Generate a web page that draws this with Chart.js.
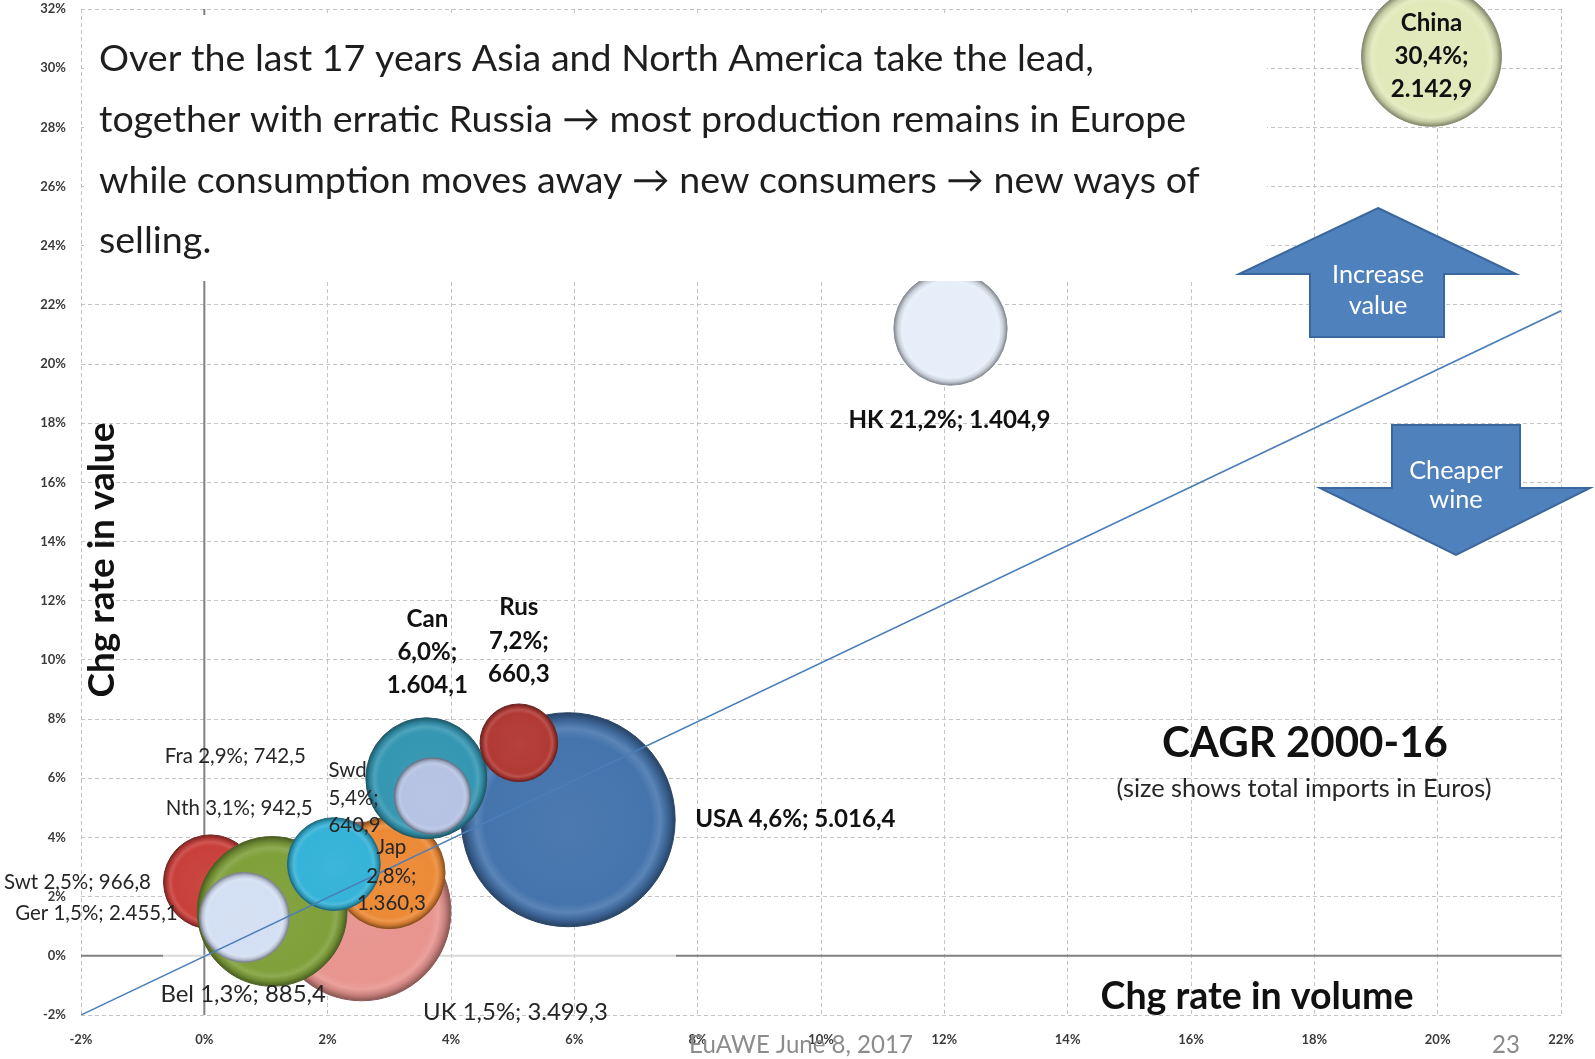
<!DOCTYPE html>
<html><head><meta charset="utf-8">
<script src="https://cdn.jsdelivr.net/npm/chart.js@4.4.1/dist/chart.umd.min.js"></script>
<style>html,body{margin:0;padding:0;background:#fff;overflow:hidden}canvas{display:block}</style>
</head><body>
<canvas id="c" width="1595" height="1059"></canvas>
<script>
// ---------------- data ----------------
const countries  = ['UK','USA','Fra','Swt','Ger','Jap','Nth','Bel','Can','Swd','Rus','HK','China'];
const volumeCAGR = [2.55, 5.9, 2.1, 0.1, 1.1, 3.0, 2.1, 0.65, 3.6, 3.7, 5.1, 12.1, 19.9];   // x, % per year
const valueCAGR  = [1.5, 4.6, 2.9, 2.5, 1.5, 2.8, 3.1, 1.3, 6.0, 5.4, 7.2, 21.2, 30.4];     // y, % per year
const importsEUR = [3499.3, 5016.4, 742.5, 966.8, 2455.1, 1360.3, 942.5, 885.4, 1604.1, 640.9, 660.3, 1404.9, 2142.9]; // bubble size
const parityX = [-2, 22];
const parityY = [-2, 21.8];
const xRange = [-2, 22];
const yRange = [-2, 32];
const tickStep = 2;
const paragraphLines = [
  'Over the last 17 years Asia and North America take the lead,',
  'together with erratic Russia \u2192 most production remains in Europe',
  'while consumption moves away \u2192 new consumers \u2192 new ways of',
  'selling.'
];

// ---------------- styles ----------------
const FONT = 'Lato, "Open Sans", sans-serif';
const MAX_R = 107;
const bubbleColors = {UK:'#e8948f', USA:'#4574ad', Fra:'#8064a2', Swt:'#c9403b', Ger:'#7fa03a', Jap:'#ec8a36',
  Nth:'#35b3d8', Bel:'#d3dff3', Can:'#3597b2', Swd:'#b6c3e3', Rus:'#b23a35', HK:'#e5eef9', China:'#e1e9bb'};
const labelLayout = {
  China:{multi:true, dx:0, dy:[-33,0,33], align:'center', group:'bold'},
  HK:{dx:-1, dy:92, align:'center', group:'bold'},
  USA:{dx:127, dy:0, align:'left', group:'bold'},
  Can:{multi:true, dx:1, dy:[-159,-126,-93], align:'center', group:'bold'},
  Rus:{multi:true, dx:0, dy:[-136,-102,-69], align:'center', group:'bold'},
  Swd:{multi:true, dx:-104, dy:[-26,2.5,29], align:'left', group:'small'},
  Jap:{multi:true, dx:2, dy:[-26,3,30], align:'center', group:'small'},
  Nth:{dx:-168, dy:-56, align:'left', group:'small'},
  Fra:{dx:-169, dy:-114, align:'left', group:'small'},
  Swt:{dx:-206.5, dy:1, align:'left', group:'small'},
  Ger:{dx:-257, dy:2, align:'left', group:'small'},
  Bel:{dx:-84, dy:76.5, align:'left', group:'medium'},
  UK:{dx:61.5, dy:100.6, align:'left', group:'medium'}
};
const groupFit = { bold:['HK 21,2%; 1.404,9', 202, 'bold'], small:['Fra 2,9%; 742,5', 141, 'normal'], medium:['UK 1,5%; 3.499,3', 185, 'normal'] };

// ---------------- helpers ----------------
function fmtPct(v){ return v.toFixed(1).replace('.', ',') + '%'; }
function fmtNum(v){ const p = v.toFixed(1).split('.'); return p[0].replace(/\B(?=(\d{3})+(?!\d))/g, '.') + ',' + p[1]; }
function hexToRgb(h){ const n = parseInt(h.slice(1),16); return [n>>16,(n>>8)&255,n&255]; }
function mix(h, t){ const c = hexToRgb(h); const f = v => Math.round(t>=0 ? v+(255-v)*t : v*(1+t)); return `rgb(${f(c[0])},${f(c[1])},${f(c[2])})`; }
function fitSize(ctx, text, width, weight){ ctx.font = `${weight} 100px ${FONT}`; return 100*width/ctx.measureText(text).width; }
function txt(ctx, text, x, y, size, weight, color, align, baseline){
  ctx.font = `${weight} ${size}px ${FONT}`; ctx.fillStyle = color; ctx.textAlign = align||'left'; ctx.textBaseline = baseline||'middle';
  ctx.fillText(text, x, y);
}

const maxImp = Math.max(...importsEUR);
const bubbleData = countries.map((c,i)=>({x: volumeCAGR[i], y: valueCAGR[i], r: MAX_R*Math.sqrt(importsEUR[i]/maxImp)}));

function bubbleFill(ctx){
  const base = bubbleColors[countries[ctx.dataIndex]] || '#888';
  if (ctx.type !== 'data') return base;
  const ch = ctx.chart, xs = ch.scales.x, ys = ch.scales.y;
  if (!xs || !ys || !ch.chartArea) return base;
  const p = ctx.raw; const x = xs.getPixelForValue(p.x), y = ys.getPixelForValue(p.y), r = p.r;
  const g = ch.ctx.createRadialGradient(x, y + r*0.06, 0, x, y, r);
  g.addColorStop(0, mix(base, 0.04));
  g.addColorStop(0.78, base);
  g.addColorStop(0.86, mix(base, 0.12));
  g.addColorStop(0.93, mix(base, -0.12));
  g.addColorStop(1, mix(base, -0.42));
  return g;
}
function bubbleEdge(ctx){ const base = bubbleColors[countries[ctx.dataIndex]] || '#888'; return mix(base, -0.4); }

const decor = {
  id:'decor',
  beforeDatasetsDraw(chart){
    const {ctx, chartArea:a, scales:{x:xs, y:ys}} = chart;
    const x0 = xs.getPixelForValue(0), y0 = ys.getPixelForValue(0);
    ctx.save();
    ctx.lineWidth = 2; ctx.strokeStyle = '#808080';
    ctx.beginPath(); ctx.moveTo(x0, a.top); ctx.lineTo(x0, a.bottom); ctx.stroke();
    ctx.beginPath(); ctx.moveTo(a.left, y0); ctx.lineTo(163, y0); ctx.moveTo(676, y0); ctx.lineTo(a.right, y0); ctx.stroke();
    ctx.strokeStyle = '#d8d8d8';
    ctx.beginPath(); ctx.moveTo(163, y0); ctx.lineTo(676, y0); ctx.stroke();
    ctx.restore();
  },
  afterDatasetsDraw(chart){
    const {ctx, scales:{x:xs, y:ys}} = chart;
    ctx.save();
    // text box
    ctx.fillStyle = '#fff'; ctx.fillRect(84, 15, 1183, 266);
    const ps = fitSize(ctx, paragraphLines[0], 995, 'normal');
    paragraphLines.forEach((l,i)=> txt(ctx, l, 99, 71 + 60.8*i, ps, 'normal', '#1e1e1e', 'left', 'alphabetic'));

    // bubble labels
    const sizes = {};
    for (const g in groupFit) sizes[g] = fitSize(ctx, groupFit[g][0], groupFit[g][1], groupFit[g][2]);
    countries.forEach((c,i)=>{
      const L = labelLayout[c]; if (!L) return;
      const cx = xs.getPixelForValue(volumeCAGR[i]), cy = ys.getPixelForValue(valueCAGR[i]);
      const w = groupFit[L.group][2], s = sizes[L.group];
      const col = L.group==='bold' ? '#111' : '#262626';
      if (L.multi){
        const lines = [c, fmtPct(valueCAGR[i]) + ';', fmtNum(importsEUR[i])];
        lines.forEach((t,k)=> txt(ctx, t, cx+L.dx, cy+L.dy[k], s, w, col, L.align));
      } else {
        txt(ctx, `${c} ${fmtPct(valueCAGR[i])}; ${fmtNum(importsEUR[i])}`, cx+L.dx, cy+L.dy, s, w, col, L.align);
      }
    });

    // arrows
    ctx.fillStyle = '#4f81bd'; ctx.strokeStyle = '#3a679e'; ctx.lineWidth = 2;
    ctx.beginPath();
    ctx.moveTo(1378,208); ctx.lineTo(1516,274); ctx.lineTo(1444,274); ctx.lineTo(1444,337); ctx.lineTo(1310,337); ctx.lineTo(1310,274); ctx.lineTo(1239,274); ctx.closePath();
    ctx.fill(); ctx.stroke();
    ctx.beginPath();
    ctx.moveTo(1392,425); ctx.lineTo(1520,425); ctx.lineTo(1520,488); ctx.lineTo(1590,488); ctx.lineTo(1456,555); ctx.lineTo(1320,488); ctx.lineTo(1392,488); ctx.closePath();
    ctx.fill(); ctx.stroke();
    const as = fitSize(ctx, 'Increase', 92, 'normal');
    txt(ctx, 'Increase', 1378, 275, as, 'normal', '#fff', 'center');
    txt(ctx, 'value', 1378, 306, as, 'normal', '#fff', 'center');
    txt(ctx, 'Cheaper', 1456, 471, as, 'normal', '#fff', 'center');
    txt(ctx, 'wine', 1456, 500, as, 'normal', '#fff', 'center');

    // titles
    const ts = fitSize(ctx, 'Chg rate in volume', 313, 'bold');
    txt(ctx, 'Chg rate in volume', 1257, 997, ts, 'bold', '#111', 'center');
    ctx.save(); ctx.translate(102, 560); ctx.rotate(-Math.PI/2);
    txt(ctx, 'Chg rate in value', 0, 0, fitSize(ctx, 'Chg rate in value', 275, 'bold'), 'bold', '#111', 'center');
    ctx.restore();
    txt(ctx, 'CAGR 2000-16', 1305, 743, fitSize(ctx, 'CAGR 2000-16', 286, 'bold'), 'bold', '#111', 'center');
    txt(ctx, '(size shows total imports in Euros)', 1304, 789, fitSize(ctx, '(size shows total imports in Euros)', 375, 'normal'), 'normal', '#262626', 'center');
    const fs = fitSize(ctx, 'EuAWE June 8, 2017', 224, 'normal');
    txt(ctx, 'EuAWE June 8, 2017', 801, 1045, fs, 'normal', '#8c8c8c', 'center');
    txt(ctx, '23', 1506, 1045, fs, 'normal', '#8c8c8c', 'center');
    ctx.restore();
  }
};

const tickFont = {family: FONT, size: 13, weight: 'bold'};
new Chart(document.getElementById('c'), {
  type: 'bubble',
  data: { datasets: [
    { type:'line', label:'parity', data: parityX.map((x,i)=>({x, y: parityY[i]})), borderColor:'#4a7ebb', borderWidth:1.5, pointRadius:0, fill:false, order:0 },
    { type:'bubble', label:'CAGR', data: bubbleData, backgroundColor: bubbleFill, borderColor: bubbleEdge, borderWidth:1, clip:false, order:1 }
  ]},
  options: {
    responsive:false, animation:false, events:[],
    layout:{ autoPadding:false, padding:{ top:9, right:34, left:0, bottom:0 } },
    plugins:{ legend:{display:false}, tooltip:{enabled:false} },
    scales:{
      x:{ type:'linear', min:xRange[0], max:xRange[1],
          ticks:{ stepSize:tickStep, autoSkip:false, maxRotation:0, padding:17, color:'#3a3a3a', font:tickFont, callback:v=>v+'%' },
          grid:{ color:'#c4c4c4', drawTicks:false, lineWidth:1 }, border:{ display:false, dash:[4,3] },
          afterFit:s=>{ s.height = 44; s.paddingLeft = 0; s.paddingRight = 0; } },
      y:{ type:'linear', min:yRange[0], max:yRange[1],
          ticks:{ stepSize:tickStep, autoSkip:false, padding:15, color:'#3a3a3a', font:tickFont, callback:v=>v+'%' },
          grid:{ color:'#c4c4c4', drawTicks:false, lineWidth:1 }, border:{ display:false, dash:[4,3] },
          afterFit:s=>{ s.width = 81; s.paddingTop = 0; s.paddingBottom = 0; } }
    }
  },
  plugins:[decor]
});
</script>
</body></html>
